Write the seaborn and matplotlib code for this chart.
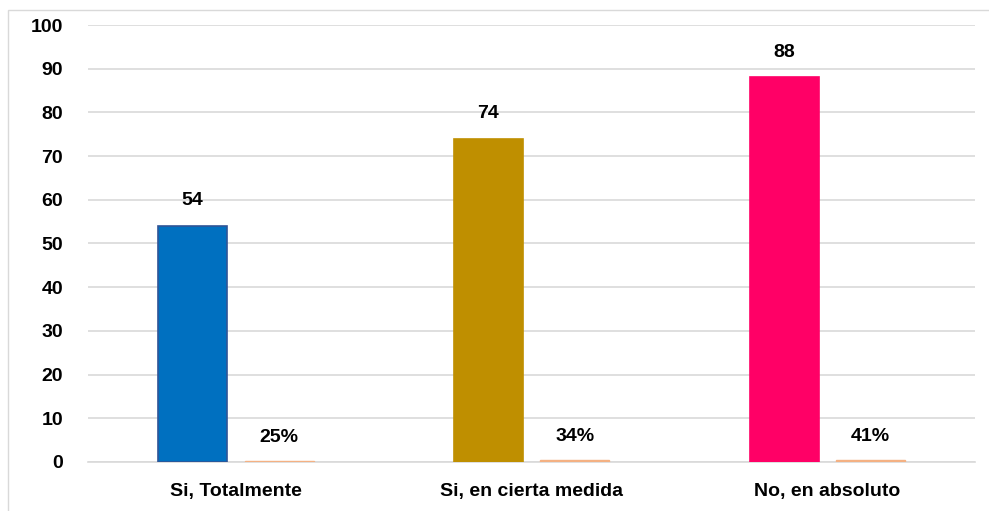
import matplotlib
matplotlib.use("Agg")
import matplotlib.pyplot as plt
import seaborn as sns
import pandas as pd
from matplotlib.patches import Rectangle

categorias = ["Si, Totalmente", "Si, en cierta medida", "No, en absoluto"]
cantidad = [54, 74, 88]
porcentaje = [0.25, 0.34, 0.41]
etiquetas_pct = ["25%", "34%", "41%"]

colores_cantidad = ["#0070C0", "#BF8F00", "#FF0066"]
bordes_cantidad = ["#2F5597", "#BF8F00", "#FF0066"]
color_pct = "#F4B183"

df = pd.DataFrame({
    "categoria": categorias * 2,
    "serie": ["Cantidad"] * 3 + ["Porcentaje"] * 3,
    "valor": cantidad + porcentaje,
})

sns.set_style("white")
plt.rcParams["font.family"] = ["Liberation Sans", "DejaVu Sans"]
plt.rcParams["font.weight"] = "bold"
plt.rcParams["text.color"] = "black"
plt.rcParams["xtick.color"] = "black"
plt.rcParams["ytick.color"] = "black"

fig = plt.figure(figsize=(9.89, 5.11), dpi=100)
ax = fig.add_axes([0.089, 0.096, 0.897, 0.855])

sns.barplot(data=df, x="categoria", y="valor", hue="serie",
            palette=["#0070C0", color_pct], width=0.584, gap=0.2,
            legend=False, ax=ax, zorder=3)

# recolour count bars per category
for patch, fc, ec in zip(ax.containers[0], colores_cantidad, bordes_cantidad):
    patch.set_facecolor(fc)
    patch.set_edgecolor(ec)
    patch.set_linewidth(1.2)
for patch in ax.containers[1]:
    patch.set_facecolor(color_pct)
    patch.set_edgecolor(color_pct)

for patch, v in zip(ax.containers[0], cantidad):
    ax.annotate(str(v), (patch.get_x() + patch.get_width() / 2, v),
                xytext=(0, 12), textcoords="offset points",
                ha="center", va="bottom", fontsize=14, fontweight="bold")
for patch, v, t in zip(ax.containers[1], porcentaje, etiquetas_pct):
    ax.annotate(t, (patch.get_x() + patch.get_width() / 2, v),
                xytext=(0, 11), textcoords="offset points",
                ha="center", va="bottom", fontsize=14, fontweight="bold")

ax.set_ylim(0, 100)
ax.set_yticks(range(0, 101, 10))
ax.set_xlim(-0.5, 2.5)
ax.yaxis.grid(True, color="#D9D9D9", linewidth=1.2, zorder=0)
ax.set_axisbelow(True)
for s in ["top", "right", "left"]:
    ax.spines[s].set_visible(False)
ax.spines["bottom"].set_color("#D9D9D9")
ax.spines["bottom"].set_linewidth(1.2)
ax.tick_params(axis="both", length=0, labelsize=14)
ax.tick_params(axis="y", pad=18)
ax.tick_params(axis="x", pad=15)
for lbl in ax.get_xticklabels() + ax.get_yticklabels():
    lbl.set_fontweight("bold")
ax.set_xlabel("")
ax.set_ylabel("")

fig.patches.append(Rectangle((8 / 989, -0.01), 1.0, 1 - 10 / 511 + 0.01,
                             transform=fig.transFigure, fill=False,
                             edgecolor="#D9D9D9", linewidth=1.0))

fig.savefig("out.png", dpi=100)
plt.close(fig)
